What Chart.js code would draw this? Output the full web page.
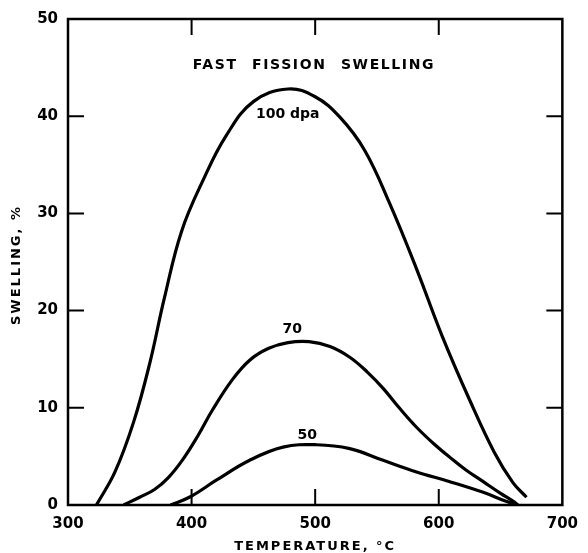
<!DOCTYPE html>
<html lang="en">
<head>
<meta charset="UTF-8">
<title>Fast fission swelling</title>
<style>
  body { margin: 0; background: #fff; }
  #wrap { width: 588px; height: 553px; position: relative; }
</style>
</head>
<body>
<div id="wrap"><canvas id="grafica"></canvas></div>

<script src="https://cdn.jsdelivr.net/npm/chart.js"></script>
<script>
// datos (temperatura en °C, hinchamiento en %)
const temp100 = [323, 338, 353, 366, 378, 392, 410, 428, 450, 478, 500, 520, 540, 560, 582, 603, 625, 645, 660, 671];
const swell100 = [0, 3.4, 8.5, 14.5, 21.3, 28.2, 33.6, 38.0, 41.5, 42.8, 42.0, 39.9, 36.5, 31.1, 24.3, 17.3, 10.8, 5.4, 2.3, 0.8];

const temp70 = [345, 358, 370, 381, 393, 405, 417, 433, 447, 462, 478, 495, 512, 528, 542, 555, 568, 582, 596, 609, 622, 636, 650, 660, 664];
const swell70 = [0, 0.8, 1.6, 2.8, 4.7, 7.1, 9.8, 12.9, 14.9, 16.1, 16.7, 16.8, 16.3, 15.2, 13.7, 12.0, 10.0, 8.0, 6.3, 4.9, 3.6, 2.4, 1.2, 0.4, 0];

const temp50 = [383, 399, 420, 447, 474, 501, 528, 555, 582, 609, 636, 655, 664];
const swell50 = [0, 0.85, 2.55, 4.6, 5.95, 6.2, 5.8, 4.6, 3.4, 2.4, 1.3, 0.35, 0];

const xTicks = [300, 400, 500, 600, 700];
const yTicks = [0, 10, 20, 30, 40, 50];
const innerX = [400, 500, 600];
const innerY = [10, 20, 30, 40];

// etiquetas de curva: texto, temperatura, hinchamiento
const curveLabels = [
  ["100 dpa", 477.8, 40.2],
  ["70", 481.4, 18.1],
  ["50", 493.5, 7.2]
];
const titulo = ["FAST FISSION SWELLING", 499, 45.2];

function puntos(xs, ys) {
  return xs.map((x, i) => ({ x: x, y: ys[i] }));
}

const fuente = "'DejaVu Sans', sans-serif";

const marco = {
  id: "marco",
  afterDraw(chart) {
    const ctx = chart.ctx;
    const a = chart.chartArea;
    const sx = chart.scales.x, sy = chart.scales.y;
    ctx.save();
    ctx.strokeStyle = "#000";
    ctx.lineWidth = 2.5;
    ctx.strokeRect(a.left, a.top, a.right - a.left, a.bottom - a.top);

    // marcas hacia adentro
    ctx.lineWidth = 2;
    const L = 16;
    innerX.forEach(v => {
      const px = sx.getPixelForValue(v);
      ctx.beginPath();
      ctx.moveTo(px, a.bottom); ctx.lineTo(px, a.bottom - L);
      ctx.moveTo(px, a.top); ctx.lineTo(px, a.top + L);
      ctx.stroke();
    });
    innerY.forEach(v => {
      const py = sy.getPixelForValue(v);
      ctx.beginPath();
      ctx.moveTo(a.left, py); ctx.lineTo(a.left + L, py);
      ctx.moveTo(a.right, py); ctx.lineTo(a.right - L, py);
      ctx.stroke();
    });

    ctx.fillStyle = "#000";
    ctx.textAlign = "center";
    ctx.textBaseline = "middle";

    // titulo interior
    ctx.font = "bold 14px " + fuente;
    ctx.letterSpacing = "1.6px";
    ctx.wordSpacing = "8px";
    ctx.fillText(titulo[0], sx.getPixelForValue(titulo[1]), sy.getPixelForValue(titulo[2]));
    ctx.wordSpacing = "0px";

    // etiquetas de curvas
    ctx.letterSpacing = "0px";
    ctx.font = "bold 14px " + fuente;
    curveLabels.forEach(l => {
      ctx.fillText(l[0], sx.getPixelForValue(l[1]), sy.getPixelForValue(l[2]));
    });

    // titulos de ejes
    ctx.font = "bold 13px " + fuente;
    ctx.letterSpacing = "2px";
    ctx.fillText("TEMPERATURE, °C", (a.left + a.right) / 2, 547);
    ctx.translate(17, 265);
    ctx.rotate(-Math.PI / 2);
    ctx.fillText("SWELLING, %", 0, 0);
    ctx.restore();
  }
};

const serie = (label, data) => ({
  label: label,
  data: data,
  borderColor: "#000",
  borderWidth: 3.2,
  pointRadius: 0,
  fill: false,
  tension: 0.4
});

new Chart(document.getElementById("grafica"), {
  type: "line",
  data: {
    datasets: [
      serie("100 dpa", puntos(temp100, swell100)),
      serie("70 dpa", puntos(temp70, swell70)),
      serie("50 dpa", puntos(temp50, swell50))
    ]
  },
  options: {
    responsive: true,
    maintainAspectRatio: false,
    animation: false,
    layout: { padding: { top: 13, right: 25, left: 0, bottom: 0 } },
    plugins: { legend: { display: false }, tooltip: { enabled: false } },
    scales: {
      x: {
        type: "linear",
        min: 300, max: 700,
        grid: { display: false, drawTicks: false },
        border: { display: false },
        afterBuildTicks: s => { s.ticks = xTicks.map(v => ({ value: v })); },
        afterFit: s => { s.height = 48; },
        ticks: { color: "#000", padding: 10, maxRotation: 0, font: { family: fuente, size: 15, weight: "bold" } }
      },
      y: {
        min: 0, max: 50,
        grid: { display: false, drawTicks: false },
        border: { display: false },
        afterBuildTicks: s => { s.ticks = yTicks.map(v => ({ value: v })); },
        afterFit: s => { s.width = 68; },
        ticks: { color: "#000", padding: 10, font: { family: fuente, size: 15, weight: "bold" } }
      }
    }
  },
  plugins: [marco]
});
</script>
</body>
</html>
